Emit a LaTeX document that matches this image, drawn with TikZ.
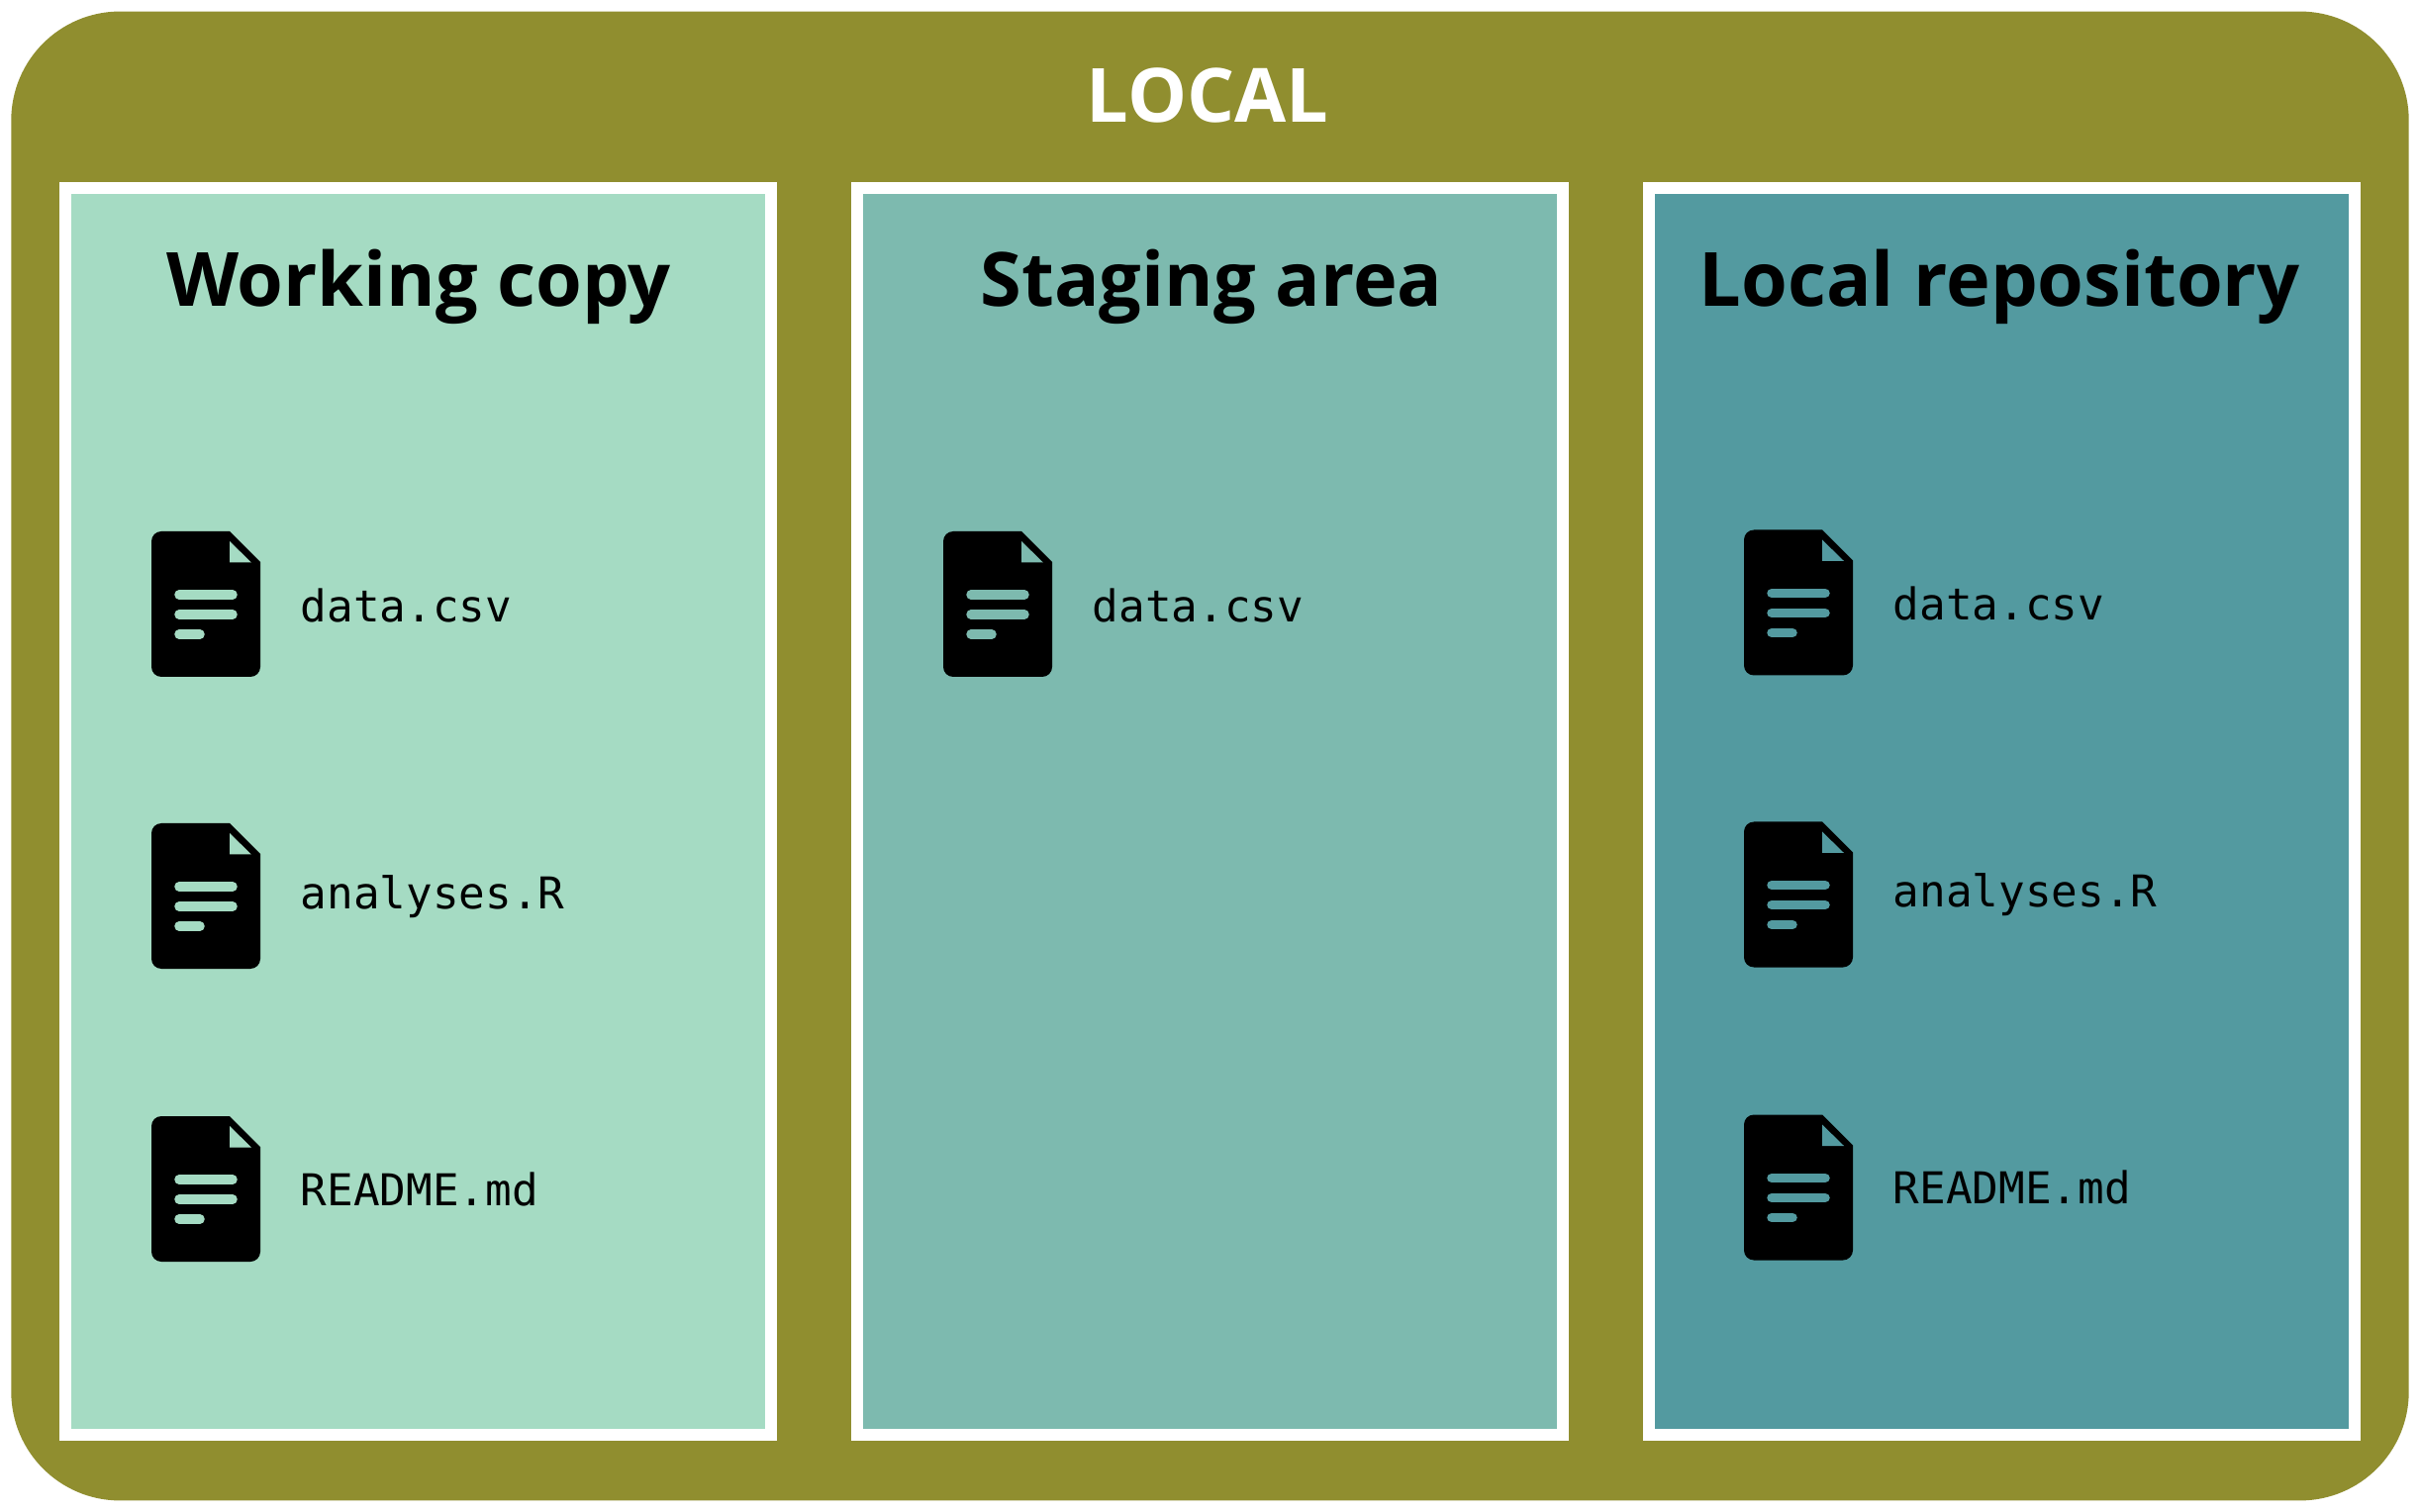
\documentclass[tikz,border=0pt]{standalone}
\usepackage{fontspec}
\setmainfont{Open Sans}
\setmonofont{DejaVu Sans Mono}
\definecolor{localbg}{HTML}{908E2F}
\definecolor{workbg}{HTML}{A5DBC3}
\definecolor{stagebg}{HTML}{7DBAAF}
\definecolor{repobg}{HTML}{539AA0}
\tikzset{
  panel/.style={draw=white,line width=0.12cm,minimum width=7.124cm,minimum height=12.594cm,inner sep=0pt},
  heading/.style={anchor=base,inner sep=0pt,font=\fontsize{21.5}{26}\selectfont\bfseries},
  fname/.style={anchor=base west,inner sep=0pt,font=\fontsize{12.6}{15}\selectfont\ttfamily},
  pics/fileicon/.style={code={
    \fill[black] (0,10) arc(180:270:10) -- (79,0)--(110,31)--(110,137) arc(0:90:10) -- (10,147) arc(90:180:10) --cycle;
    \fill[#1] (79,10)--(79,31.5)--(101,31.5)--cycle;
    \draw[#1,line width=0.095cm,line cap=round] (28,64)--(82,64) (28,84)--(82,84) (28,104)--(49,104);
  }}
}
\begin{document}
\begin{tikzpicture}[x=0.01cm,y=-0.01cm]
\useasboundingbox (0,0) rectangle (2445,1528);

\node[fill=localbg,rounded corners=1.1cm,minimum width=24.21cm,minimum height=15.04cm,inner sep=0pt] (local) at (1222.5,764) {};
\node[heading,white] (localtitle) at (1220,124) {LOCAL};

\node[panel,fill=workbg] (work) at (422.5,820) {};
\node[panel,fill=stagebg] (stage) at (1222.8,820) {};
\node[panel,fill=repobg] (repo) at (2022.2,820) {};

\node[heading] (worktitle) at (423,310) {Working copy};
\node[heading] (stagetitle) at (1224,310) {Staging area};
\node[heading] (repotitle) at (2020,310) {Local repository};

% working copy
\pic at (153,537) {fileicon=workbg};
\pic at (153,832) {fileicon=workbg};
\pic at (153,1128) {fileicon=workbg};
\node[fname] (workdata) at (303,628.5) {data.csv};
\node[fname] (workcode) at (303,918.5) {analyses.R};
\node[fname] (workread) at (303,1218.5) {README.md};

% staging area
\pic at (953,537) {fileicon=stagebg};
\node[fname] (stagedata) at (1103,628.5) {data.csv};

% local repository
\pic at (1762,535.5) {fileicon=repobg};
\pic at (1762,830.5) {fileicon=repobg};
\pic at (1762,1126.5) {fileicon=repobg};
\node[fname] (repodata) at (1912,626.5) {data.csv};
\node[fname] (repocode) at (1912,916.5) {analyses.R};
\node[fname] (reporead) at (1912,1216.5) {README.md};
\end{tikzpicture}
\end{document}
